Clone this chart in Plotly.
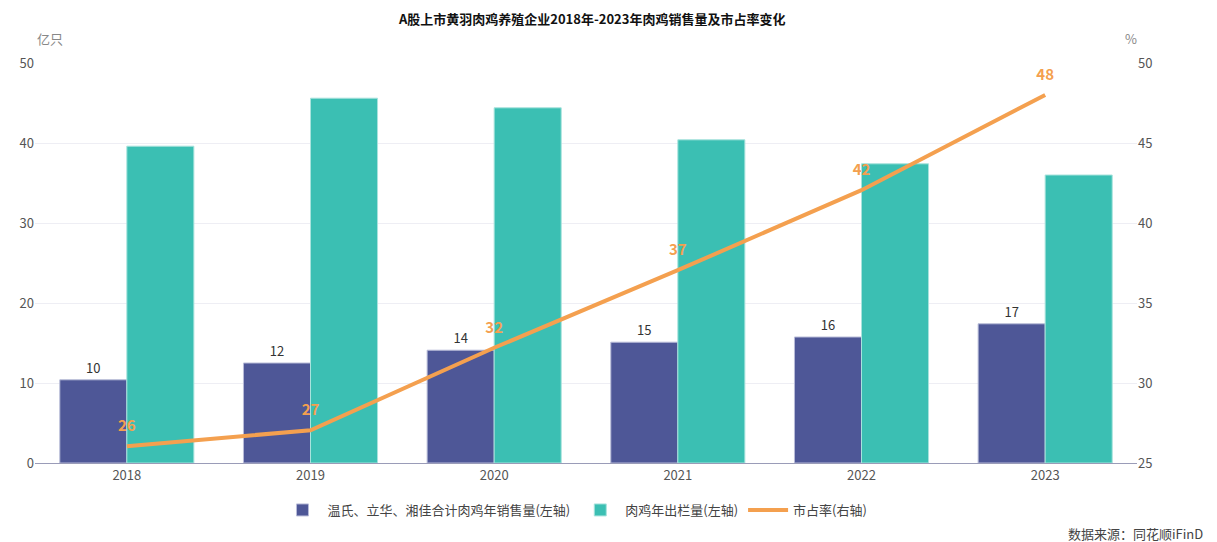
import plotly.graph_objects as go

years = ["2018", "2019", "2020", "2021", "2022", "2023"]
sales = [10.4, 12.5, 14.1, 15.1, 15.75, 17.4]
sales_labels = ["10", "12", "14", "15", "16", "17"]
output = [39.6, 45.6, 44.4, 40.4, 37.4, 36.0]
share = [26.05, 27.05, 32.2, 37.05, 42.05, 48.0]
share_labels = ["26", "27", "32", "37", "42", "48"]

FONT = "Noto Sans CJK SC, Noto Sans, sans-serif"

fig = go.Figure()

fig.add_trace(go.Bar(
    x=years, y=sales, name="温氏、立华、湘佳合计肉鸡年销售量(左轴)",
    marker=dict(color="#4E5797", line=dict(color="#B8BCD8", width=1)),
    text=sales_labels, textposition="outside", cliponaxis=False,
    textfont=dict(size=13, color="#333333"),
))
fig.add_trace(go.Bar(
    x=years, y=output, name="肉鸡年出栏量(左轴)",
    marker=dict(color="#3BBFB3", line=dict(color="#A8E3DD", width=1)),
))
# invisible markers push the value labels a bit higher above the line
fig.add_trace(go.Scatter(
    x=years, y=share, name="市占率(右轴)", yaxis="y2",
    mode="lines+markers+text", line=dict(color="#F4A04F", width=4),
    marker=dict(size=16, color="rgba(0,0,0,0)"),
    text=share_labels, textposition="top center", cliponaxis=False,
    textfont=dict(size=15, color="#F4A04F", family="Noto Sans CJK SC"),
    texttemplate="<b>%{text}</b>",
))

# page body has an 8px margin, so the margins are shifted to compensate
fig.update_layout(
    width=1217, height=542,
    margin=dict(l=27, r=88, t=55, b=87, autoexpand=False),
    paper_bgcolor="white", plot_bgcolor="white",
    font=dict(family=FONT, color="#666666", size=13),
    title=dict(text="<b>A股上市黄羽肉鸡养殖企业2018年-2023年肉鸡销售量及市占率变化</b>",
               x=0.48, xanchor="center", y=0.978, yanchor="middle",
               font=dict(size=13, color="#111111")),
    barmode="group", bargap=0.27, bargroupgap=0,
    xaxis=dict(showline=True, linecolor="#9A9CB8", linewidth=1,
               ticks="", tickfont=dict(size=13, color="#555555"), showgrid=False,
               automargin=False),
    yaxis=dict(range=[0, 50], dtick=10, showgrid=True, gridcolor="#EEEEF4",
               zeroline=False, ticks="", tickfont=dict(size=13, color="#555555"),
               automargin=False),
    yaxis2=dict(range=[25, 50], dtick=5, overlaying="y", side="right",
                showgrid=False, zeroline=False, ticks="",
                tickfont=dict(size=13, color="#555555"), automargin=False),
    legend=dict(orientation="h", x=0.49, xanchor="center", y=-0.1175, yanchor="middle",
                font=dict(size=13, color="#444444"), traceorder="normal",
                itemwidth=40),
    showlegend=True,
    annotations=[
        dict(text="亿只", xref="paper", yref="paper", x=0, y=1.0625,
             xanchor="left", yanchor="middle", showarrow=False,
             font=dict(size=13, color="#888888")),
        dict(text="%", xref="paper", yref="paper", x=0.9946, y=1.0625,
             xanchor="center", yanchor="middle", showarrow=False,
             font=dict(size=13, color="#888888")),
        dict(text="数据来源：同花顺iFinD", xref="paper", yref="paper", x=1.062, y=-0.175,
             xanchor="right", yanchor="middle", showarrow=False,
             font=dict(size=13, color="#444444")),
    ],
)

fig.write_html("out.html")
